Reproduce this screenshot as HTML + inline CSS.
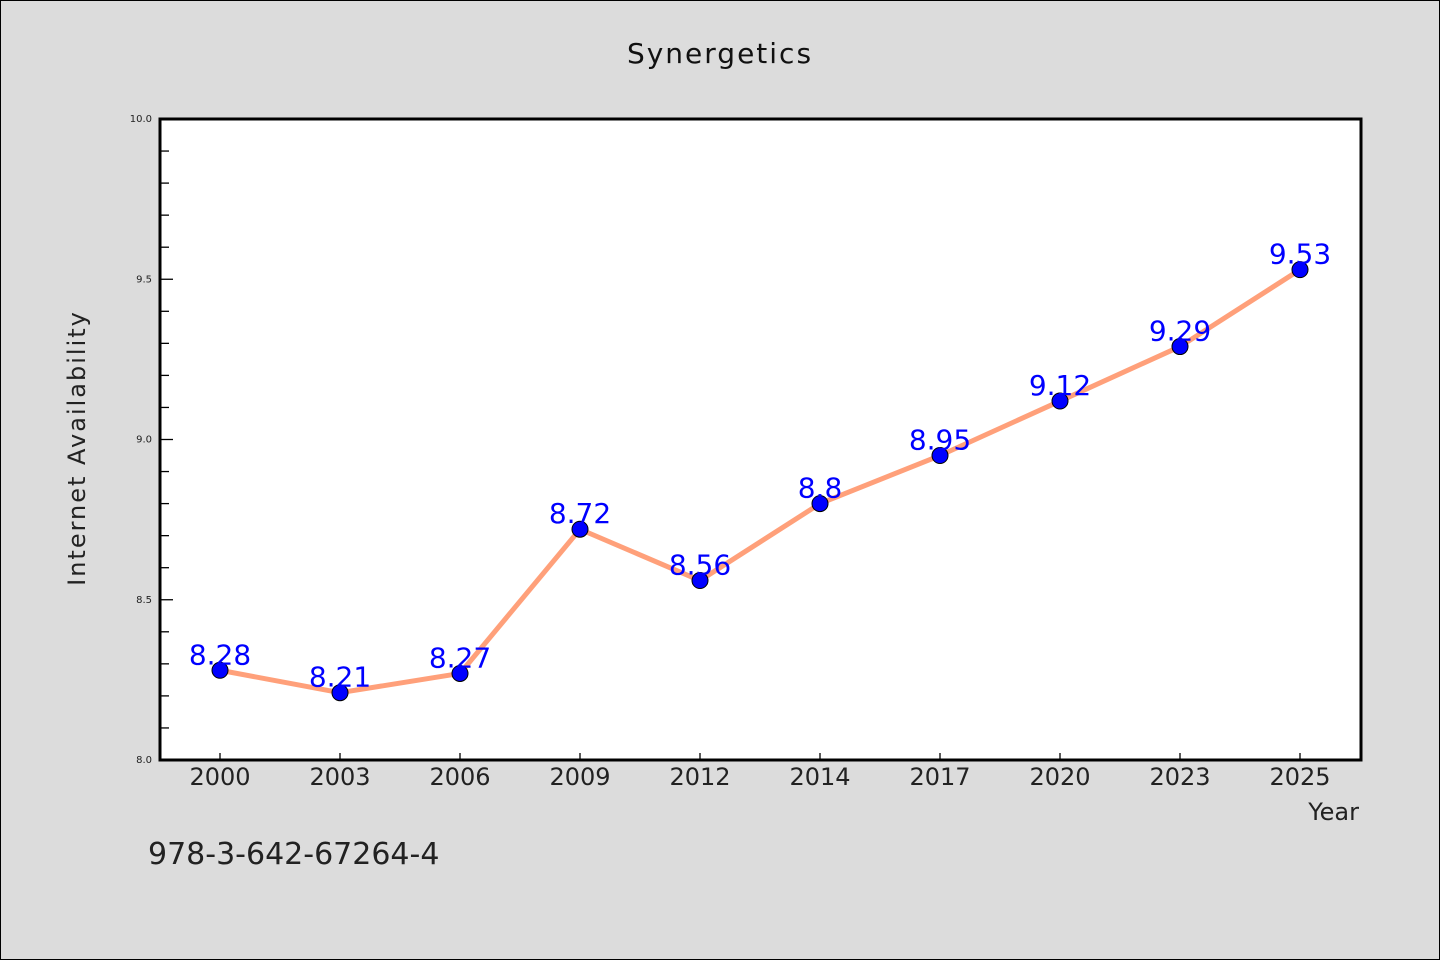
<!DOCTYPE html>
<html><head><meta charset="utf-8"><style>
html,body{margin:0;padding:0;background:#dcdcdc}
svg{display:block;font-family:"WenQuanYi Zen Hei","DejaVu Sans",sans-serif}
</style></head><body>
<svg id="chart" width="1440" height="960">
<rect x="0.5" y="0.5" width="1439" height="959" fill="#dcdcdc" stroke="#000"/>
<text x="720" y="63" text-anchor="middle" font-size="28" letter-spacing="2" fill="#111">Synergetics</text>
<rect x="160" y="119" width="1201" height="641" fill="#fff"/>
<g id="grid"></g>
<g id="series"></g>
<rect x="160" y="119" width="1201" height="641" fill="none" stroke="#000" stroke-width="3"/>
<text transform="translate(85,448) rotate(-90)" text-anchor="middle" font-size="24" letter-spacing="2" fill="#222">Internet Availability</text>
<text x="1359" y="820" text-anchor="end" font-size="24" fill="#222">Year</text>
<text x="148" y="864" font-size="30" fill="#222">978-3-642-67264-4</text>
</svg>
<script>
const categories=["2000","2003","2006","2009","2012","2014","2017","2020","2023","2025"];
const values=[8.28,8.21,8.27,8.72,8.56,8.8,8.95,9.12,9.29,9.53];
const yTicks=["8.0","8.5","9.0","9.5","10.0"];
const yMin=8,yMax=10;
const NS="http://www.w3.org/2000/svg";
const X=i=>220+i*120;
const Y=v=>760-(v-yMin)/(yMax-yMin)*641;
function mk(t,a,p){const e=document.createElementNS(NS,t);for(const k in a)e.setAttribute(k,a[k]);p.appendChild(e);return e;}
const grid=document.getElementById('grid'),ser=document.getElementById('series');
for(let k=0;k<=20;k++){const v=yMin+k*0.1;const major=k%5===0;
 const t=mk('line',{x1:160,x2:major?173:169,y1:Y(v),y2:Y(v),stroke:'#000','stroke-width':1.3},grid);
 
 }
yTicks.forEach(s=>{const t=mk('text',{x:152,y:Y(+s)+3,'text-anchor':'end','font-size':10,fill:'#222'},grid);t.textContent=s;
 
 });
categories.forEach((c,i)=>{const l=mk('line',{x1:X(i),x2:X(i),y1:753,y2:760,stroke:'#000','stroke-width':1.3},grid);
 
 
 const t=mk('text',{x:X(i),y:785,'text-anchor':'middle','font-size':24,fill:'#222'},grid);t.textContent=c;
 
 });
const line=mk('polyline',{points:values.map((v,i)=>X(i)+','+Y(v)).join(' '),fill:'none',stroke:'#FFA07A','stroke-width':5,'stroke-linejoin':'round'},ser);


values.forEach((v,i)=>{const c=mk('circle',{cx:X(i),cy:Y(v),r:8,fill:'#0000ff',stroke:'#000','stroke-width':1},ser);
 
 
 const t=mk('text',{x:X(i),y:Y(v)-6,'text-anchor':'middle','font-size':28,fill:'#0000ff'},ser);t.textContent=String(v);
 
 });
</script>
</body></html>
